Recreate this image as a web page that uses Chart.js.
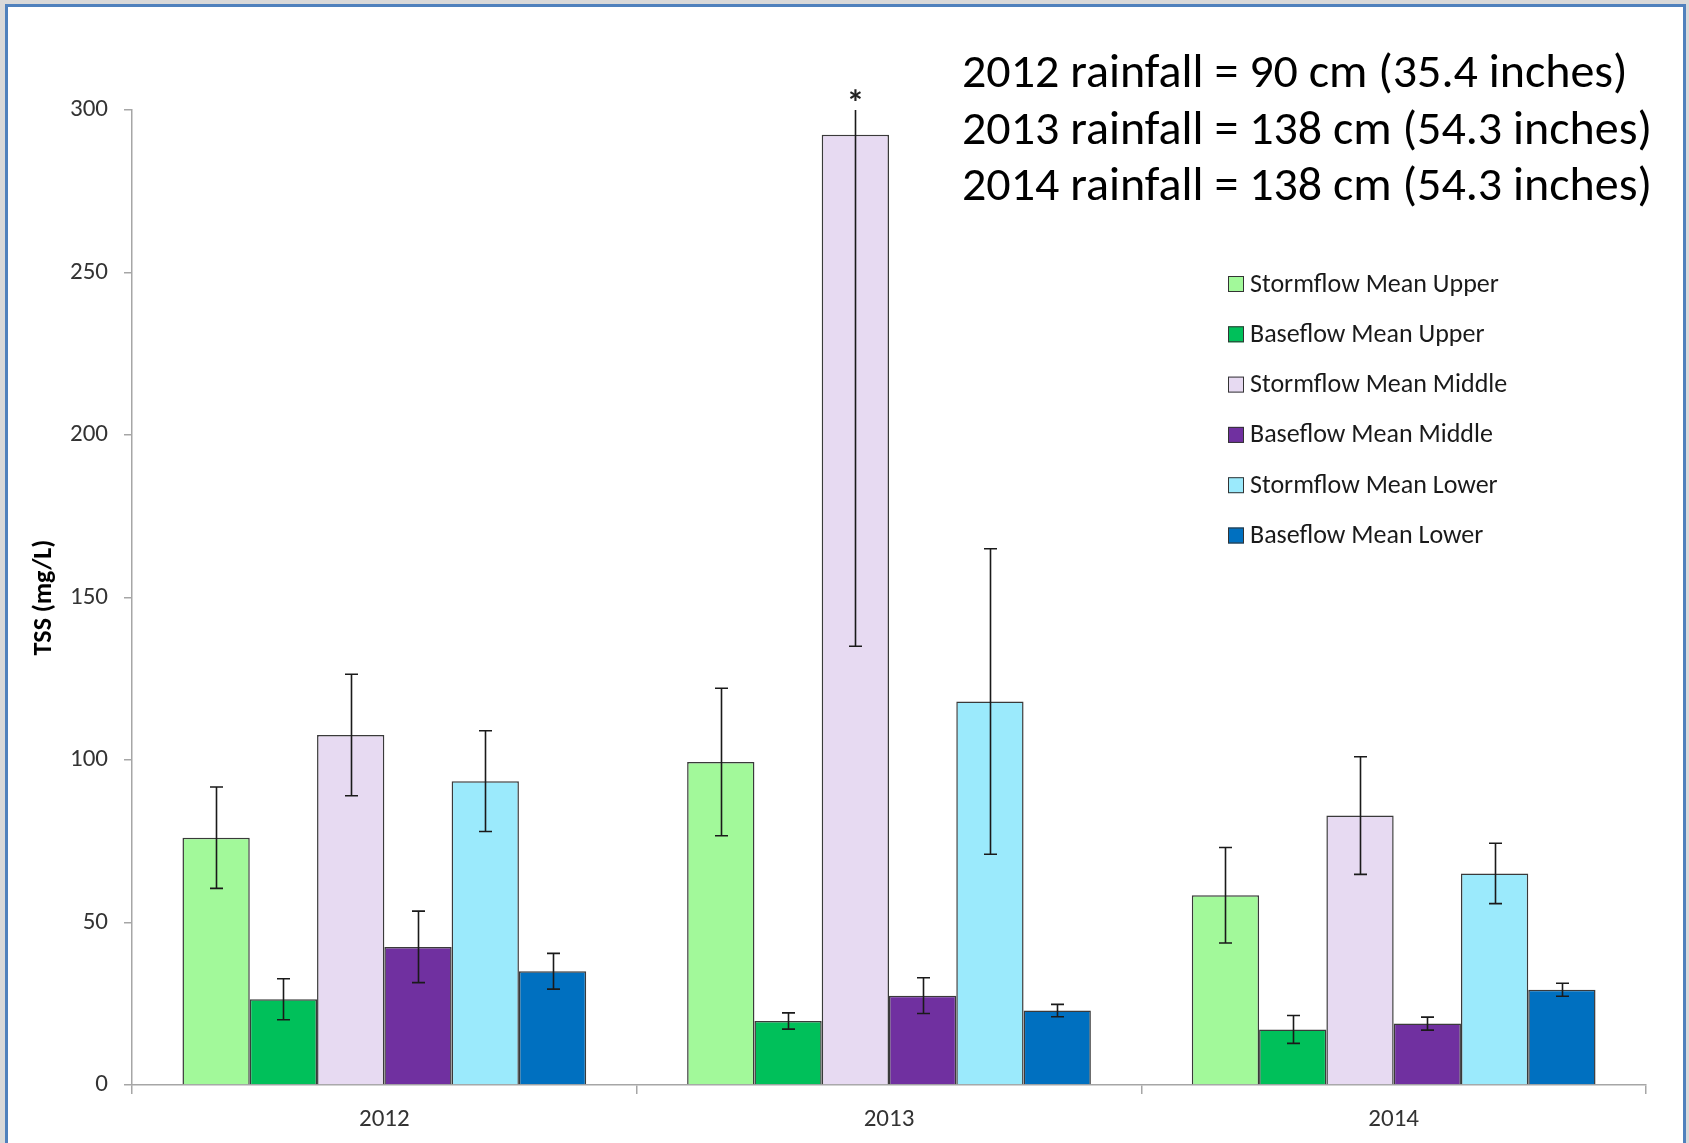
<!DOCTYPE html>
<html>
<head>
<meta charset="utf-8">
<title>TSS by year</title>
<script src="https://cdn.jsdelivr.net/npm/chart.js@4.4.1/dist/chart.umd.min.js"></script>
<style>
  html, body { margin: 0; padding: 0; background: #d9d9d9; overflow: hidden; }
  #frame { position: absolute; left: 5px; top: 4px; width: 1675px; height: 1160px; border: 3px solid #4f81bd; background: #fff; }
  #chart { position: absolute; left: 0; top: 0; }
</style>
</head>
<body>
<div id="frame"></div>
<canvas id="chart" width="1689" height="1143"></canvas>
<script>
const years = ['2012', '2013', '2014'];

const stormUpper = [76.1, 99.4, 58.4];
const stormUpperErr = [15.6, 22.7, 14.7];
const baseUpper = [26.4, 19.7, 17.1];
const baseUpperErr = [6.3, 2.5, 4.3];
const stormMiddle = [107.7, 292.4, 82.9];
const stormMiddleErr = [18.7, 157.4, 18.1];
const baseMiddle = [42.5, 27.5, 18.9];
const baseMiddleErr = [11.0, 5.5, 2.0];
const stormLower = [93.5, 118.0, 65.1];
const stormLowerErr = [15.5, 47.0, 9.3];
const baseLower = [35.0, 22.9, 29.3];
const baseLowerErr = [5.5, 1.9, 2.0];

// significance marker above the 2013 middle stormflow bar
const starMarks = ['', '*', ''];

const rainfallNotes = [
  '2012 rainfall = 90 cm (35.4 inches)',
  '2013 rainfall = 138 cm (54.3 inches)',
  '2014 rainfall = 138 cm (54.3 inches)'
];

const FONT = 'Carlito, Lato, "Liberation Sans", sans-serif';

const makeSet = (label, data, errors, color, extra) => ({
  label, data, errors,
  backgroundColor: color,
  borderColor: '#3a3a3a',
  borderWidth: 1.5,
  categoryPercentage: 0.8,
  barPercentage: 1.0,
  ...extra
});

const datasets = [
  makeSet('Stormflow Mean Upper', stormUpper, stormUpperErr, '#a2f99a'),
  makeSet('Baseflow Mean Upper', baseUpper, baseUpperErr, '#00c05a'),
  makeSet('Stormflow Mean Middle', stormMiddle, stormMiddleErr, '#e7daf2', { marks: starMarks }),
  makeSet('Baseflow Mean Middle', baseMiddle, baseMiddleErr, '#7030a0'),
  makeSet('Stormflow Mean Lower', stormLower, stormLowerErr, '#9beafc'),
  makeSet('Baseflow Mean Lower', baseLower, baseLowerErr, '#0070c0')
];

const errorBars = {
  id: 'errorBars',
  afterDatasetsDraw(chart) {
    const { ctx, chartArea: a, scales: { y } } = chart;
    ctx.save();
    ctx.beginPath();
    ctx.rect(a.left, a.top, a.right - a.left, a.bottom - a.top);
    ctx.clip();
    ctx.strokeStyle = '#1a1a1a';
    ctx.lineWidth = 1.6;
    chart.data.datasets.forEach((ds, i) => {
      chart.getDatasetMeta(i).data.forEach((bar, j) => {
        const v = ds.data[j], e = ds.errors[j];
        const top = y.getPixelForValue(v + e);
        const bot = y.getPixelForValue(v - e);
        const x = Math.round(bar.x) + 0.5;
        ctx.beginPath();
        ctx.moveTo(x, top); ctx.lineTo(x, bot);
        ctx.moveTo(x - 6.5, top); ctx.lineTo(x + 6.5, top);
        ctx.moveTo(x - 6.5, bot); ctx.lineTo(x + 6.5, bot);
        ctx.stroke();
      });
    });
    ctx.restore();

    // star markers sit just above the plot top
    ctx.save();
    ctx.fillStyle = '#222';
    ctx.font = 'bold 36px ' + FONT;
    ctx.textAlign = 'center';
    ctx.textBaseline = 'middle';
    chart.data.datasets.forEach((ds, i) => {
      if (!ds.marks) return;
      chart.getDatasetMeta(i).data.forEach((bar, j) => {
        if (ds.marks[j]) ctx.fillText(ds.marks[j], bar.x, a.top - 4);
      });
    });
    ctx.restore();
  }
};

const sideLegend = {
  id: 'sideLegend',
  afterDraw(chart) {
    const { ctx } = chart;
    ctx.save();
    ctx.font = '26px ' + FONT;
    ctx.textBaseline = 'middle';
    ctx.textAlign = 'left';
    chart.data.datasets.forEach((ds, i) => {
      const cy = 284 + i * 50.3;
      ctx.fillStyle = ds.backgroundColor;
      ctx.fillRect(1228, cy - 8, 16, 16);
      ctx.strokeStyle = '#333';
      ctx.lineWidth = 1;
      ctx.strokeRect(1228.5, cy - 7.5, 15, 15);
      ctx.fillStyle = '#1a1a1a';
      ctx.fillText(ds.label, 1250, cy + 1);
    });
    ctx.restore();
  }
};

const notes = {
  id: 'notes',
  afterDraw(chart) {
    const { ctx } = chart;
    ctx.save();
    ctx.font = '48px ' + FONT;
    ctx.fillStyle = '#000';
    ctx.textAlign = 'left';
    ctx.textBaseline = 'alphabetic';
    rainfallNotes.forEach((line, i) => ctx.fillText(line, 962, 87 + i * 56.5));
    ctx.restore();
  }
};

const axisGray = '#a6a6a6';

new Chart(document.getElementById('chart'), {
  type: 'bar',
  data: { labels: years, datasets },
  plugins: [errorBars, sideLegend, notes],
  options: {
    responsive: false,
    animation: false,
    devicePixelRatio: 1,
    layout: { padding: { top: 110, right: 43, bottom: 0, left: 0 } },
    plugins: { legend: { display: false }, tooltip: { enabled: false } },
    scales: {
      x: {
        offset: true,
        ticks: { padding: 11, color: '#333', font: { family: FONT, size: 25 } },
        grid: { offset: true, drawOnChartArea: false, tickLength: 9, color: axisGray, lineWidth: 1.5 },
        border: { color: axisGray, width: 1.5 },
        afterFit: s => { s.height = 58; }
      },
      y: {
        min: 0,
        max: 300,
        ticks: { stepSize: 50, padding: 16, color: '#333', font: { family: FONT, size: 25 } },
        grid: { drawOnChartArea: false, tickLength: 8, color: axisGray, lineWidth: 1.5 },
        border: { color: axisGray, width: 1.5 },
        title: {
          display: true,
          text: 'TSS (mg/L)',
          color: '#000',
          font: { family: FONT, size: 26, weight: 'bold' },
          padding: { top: 29, bottom: 0 }
        },
        afterFit: s => { s.width = 132; }
      }
    }
  }
});
</script>
</body>
</html>
